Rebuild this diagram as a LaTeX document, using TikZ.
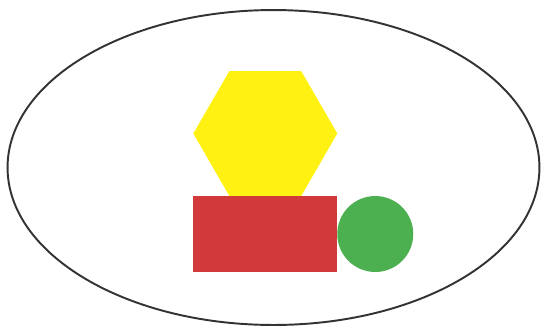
\documentclass[tikz,border=0pt]{standalone}
\usepackage{xcolor}
\usepackage{tikz}
\usetikzlibrary{shapes.geometric,positioning}
\definecolor{hexyellow}{HTML}{FFF212}
\definecolor{boxred}{HTML}{D2393A}
\definecolor{dotgreen}{HTML}{4CAF50}
\definecolor{rimgray}{HTML}{333333}
\begin{document}
\begin{tikzpicture}[
  x=0.02cm, y=-0.02cm,
  piece/.style={inner sep=0pt, outer sep=0pt, draw=none},
]
\useasboundingbox (0,0) rectangle (542,326);
% outer frame
\draw[rimgray, line width=1.1pt] (273.5,167.5) ellipse [x radius=5.32cm, y radius=3.15cm];
% shapes
\node[piece, regular polygon, regular polygon sides=6, minimum size=2.88cm, fill=hexyellow] (hex) at (265.3,133.5) {};
\node[piece, rectangle, minimum width=2.88cm, minimum height=1.51cm, fill=boxred] (box) at (265.3,234) {};
\node[piece, circle, minimum size=1.52cm, fill=dotgreen, right=0pt of box] (dot) {};
\end{tikzpicture}
\end{document}
